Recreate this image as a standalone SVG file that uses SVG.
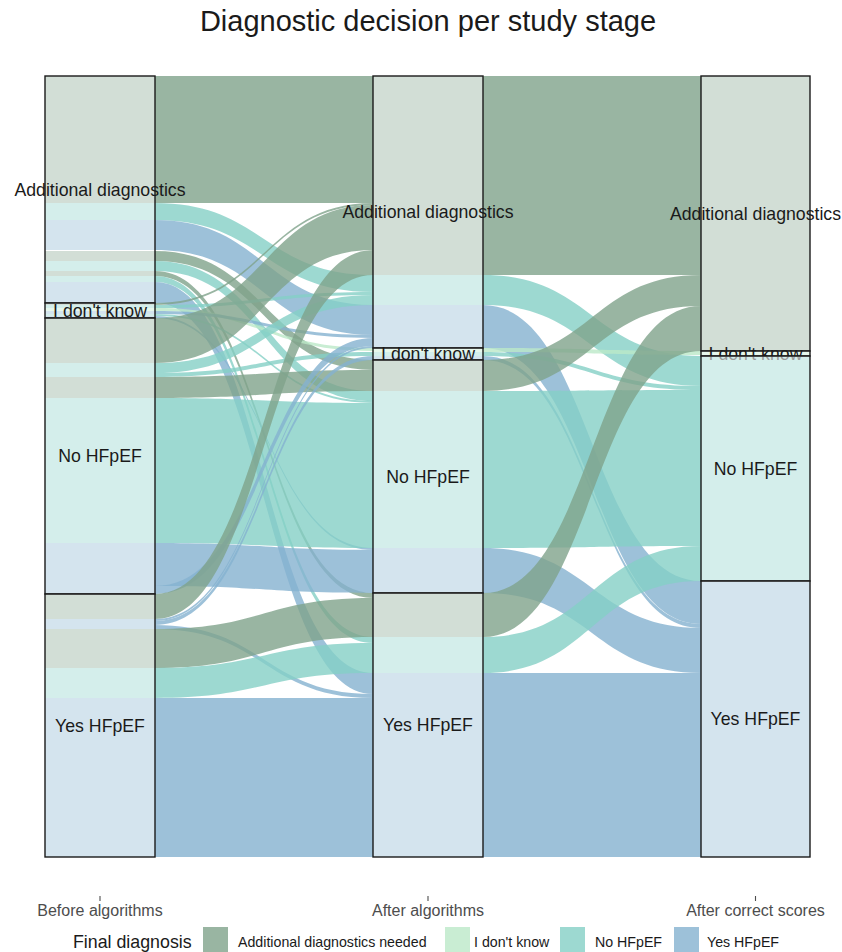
<svg xmlns="http://www.w3.org/2000/svg" width="842" height="952" viewBox="0 0 842 952">
<style>
.g{fill:#7fa38b}.t{fill:#84cfc5}.b{fill:#84b2d0}.l{fill:#bce9c8}
.f path,.lode rect,.key{fill-opacity:.8}
.st{fill:#fff;fill-opacity:.56;stroke:#1a1a1a;stroke-width:1.4}
.lab{font-family:'Liberation Sans',Arial,sans-serif;font-size:17.7px;text-anchor:middle;fill:#1a1a1a}
.ax{font-family:'Liberation Sans',Arial,sans-serif;font-size:16px;text-anchor:middle;fill:#4d4d4d}
.lg{font-family:'Liberation Sans',Arial,sans-serif;font-size:14.2px;fill:#1a1a1a}
.tick{stroke:#4d4d4d;stroke-width:1.1}
</style>
<rect width="842" height="952" fill="#fff"/>
<text x="428" y="31" font-family="'Liberation Sans',Arial,sans-serif" font-size="29" text-anchor="middle" fill="#1a1a1a">Diagnostic decision per study stage</text>

<g id="connectors" class="f">
<!-- stage 1 to stage 2 -->
<path class="g" d="M155 76C264 76 264 76 373 76V203C264 203 264 203 155 203Z"/>
<path class="t" d="M155 203C264 203 264 275 373 275V292C264 292 264 220 155 220Z"/>
<path class="b" d="M155 220C264 220 264 305 373 305V335C264 335 264 250 155 250Z"/>
<path class="g" d="M155 251C264 251 264 360 373 360V370C264 370 264 261 155 261Z"/>
<path class="t" d="M155 261C264 261 264 391 373 391V401C264 401 264 271 155 271Z"/>
<path class="g" d="M155 271C264 271 264 593 373 593V598C264 598 264 276 155 276Z"/>
<path class="t" d="M155 276C264 276 264 637 373 637V643C264 643 264 282 155 282Z"/>
<path class="b" d="M155 282C264 282 264 673 373 673V694C264 694 264 303 155 303Z"/>
<path class="g" d="M155 303C264 303 264 203 373 203V205C264 205 264 305 155 305Z"/>
<path class="t" d="M155 305C264 305 264 292 373 292V295C264 295 264 308 155 308Z"/>
<path class="l" d="M155 308C264 308 264 348 373 348V351C264 351 264 311 155 311Z"/>
<path class="b" d="M155 311C264 311 264 335 373 335V338C264 338 264 314 155 314Z"/>
<path class="t" d="M155 314C264 314 264 401 373 401V403C264 403 264 316 155 316Z"/>
<path class="b" d="M155 316C264 316 264 548 373 548V550C264 550 264 318 155 318Z"/>
<path class="g" d="M155 318C264 318 264 205 373 205V250C264 250 264 363 155 363Z"/>
<path class="t" d="M155 363C264 363 264 295 373 295V305C264 305 264 373 155 373Z"/>
<path class="t" d="M155 373C264 373 264 352 373 352V356C264 356 264 377 155 377Z"/>
<path class="g" d="M155 377C264 377 264 370 373 370V391C264 391 264 398 155 398Z"/>
<path class="t" d="M155 398C264 398 264 403 373 403V548C264 548 264 543 155 543Z"/>
<path class="b" d="M155 543C264 543 264 550 373 550V593C264 593 264 586 155 586Z"/>
<path class="b" d="M155 586C264 586 264 338 373 338V346C264 346 264 594 155 594Z"/>
<path class="g" d="M155 594C264 594 264 250 373 250V275C264 275 264 619 155 619Z"/>
<path class="b" d="M155 619C264 619 264 346 373 346V348C264 348 264 621 155 621Z"/>
<path class="b" d="M155 621C264 621 264 356 373 356V360C264 360 264 625 155 625Z"/>
<path class="b" d="M155 625C264 625 264 694 373 694V698C264 698 264 629 155 629Z"/>
<path class="g" d="M155 629C264 629 264 598 373 598V637C264 637 264 668 155 668Z"/>
<path class="t" d="M155 668C264 668 264 643 373 643V673C264 673 264 698 155 698Z"/>
<path class="b" d="M155 698C264 698 264 698 373 698V857C264 857 264 857 155 857Z"/>
<!-- stage 2 to stage 3 -->
<path class="g" d="M483 76C592 76 592 76 701 76V275C592 275 592 275 483 275Z"/>
<path class="t" d="M483 275C592 275 592 356 701 356V386C592 386 592 305 483 305Z"/>
<path class="b" d="M483 305C592 305 592 581 701 581V624C592 624 592 348 483 348Z"/>
<path class="l" d="M483 348C592 348 592 351 701 351V355C592 355 592 352 483 352Z"/>
<path class="t" d="M483 352C592 352 592 386 701 386V390C592 390 592 356 483 356Z"/>
<path class="b" d="M483 356C592 356 592 624 701 624V628C592 628 592 360 483 360Z"/>
<path class="g" d="M483 360C592 360 592 275 701 275V306C592 306 592 391 483 391Z"/>
<path class="t" d="M483 391C592 391 592 390 701 390V546C592 546 592 548 483 548Z"/>
<path class="b" d="M483 548C592 548 592 628 701 628V673C592 673 592 593 483 593Z"/>
<path class="g" d="M483 593C592 593 592 306 701 306V351C592 351 592 637 483 637Z"/>
<path class="t" d="M483 637C592 637 592 546 701 546V581C592 581 592 673 483 673Z"/>
<path class="b" d="M483 673C592 673 592 673 701 673V857C592 857 592 857 483 857Z"/>
</g>

<g class="lode">
<rect class="g" x="45" y="76" width="110" height="127"/>
<rect class="t" x="45" y="203" width="110" height="17"/>
<rect class="b" x="45" y="220" width="110" height="30"/>
<rect class="g" x="45" y="251" width="110" height="10"/>
<rect class="t" x="45" y="261" width="110" height="10"/>
<rect class="g" x="45" y="271" width="110" height="5"/>
<rect class="t" x="45" y="276" width="110" height="6"/>
<rect class="b" x="45" y="282" width="110" height="21"/>
<rect class="g" x="45" y="303" width="110" height="2"/>
<rect class="t" x="45" y="305" width="110" height="3"/>
<rect class="l" x="45" y="308" width="110" height="3"/>
<rect class="b" x="45" y="311" width="110" height="3"/>
<rect class="t" x="45" y="314" width="110" height="2"/>
<rect class="b" x="45" y="316" width="110" height="2"/>
<rect class="g" x="45" y="318" width="110" height="45"/>
<rect class="t" x="45" y="363" width="110" height="14"/>
<rect class="g" x="45" y="377" width="110" height="21"/>
<rect class="t" x="45" y="398" width="110" height="145"/>
<rect class="b" x="45" y="543" width="110" height="51"/>
<rect class="g" x="45" y="594" width="110" height="25"/>
<rect class="b" x="45" y="619" width="110" height="10"/>
<rect class="g" x="45" y="629" width="110" height="39"/>
<rect class="t" x="45" y="668" width="110" height="30"/>
<rect class="b" x="45" y="698" width="110" height="159"/>

<rect class="g" x="373" y="76" width="110" height="199"/>
<rect class="t" x="373" y="275" width="110" height="30"/>
<rect class="b" x="373" y="305" width="110" height="43"/>
<rect class="l" x="373" y="348" width="110" height="4"/>
<rect class="t" x="373" y="352" width="110" height="4"/>
<rect class="b" x="373" y="356" width="110" height="4"/>
<rect class="g" x="373" y="360" width="110" height="31"/>
<rect class="t" x="373" y="391" width="110" height="157"/>
<rect class="b" x="373" y="548" width="110" height="45"/>
<rect class="g" x="373" y="593" width="110" height="44"/>
<rect class="t" x="373" y="637" width="110" height="36"/>
<rect class="b" x="373" y="673" width="110" height="184"/>

<rect class="g" x="701" y="76" width="109" height="275"/>
<rect class="l" x="701" y="351" width="109" height="5"/>
<rect class="t" x="701" y="356" width="109" height="225"/>
<rect class="b" x="701" y="581" width="109" height="276"/>
</g>

<g id="before-additional"><rect class="st" x="45" y="76" width="110" height="227"/><text class="lab" x="100" y="195.5">Additional diagnostics</text></g>
<g id="before-idk"><rect class="st" x="45" y="303" width="110" height="15"/><text class="lab" x="100" y="316.5">I don't know</text></g>
<g id="before-no"><rect class="st" x="45" y="318" width="110" height="276"/><text class="lab" x="100" y="462">No HFpEF</text></g>
<g id="before-yes"><rect class="st" x="45" y="594" width="110" height="263"/><text class="lab" x="100" y="731.5">Yes HFpEF</text></g>

<g id="after-additional"><rect class="st" x="373" y="76" width="110" height="272"/><text class="lab" x="428" y="218">Additional diagnostics</text></g>
<g id="after-idk"><rect class="st" x="373" y="348" width="110" height="12"/><text class="lab" x="428" y="360">I don't know</text></g>
<g id="after-no"><rect class="st" x="373" y="360" width="110" height="233"/><text class="lab" x="428" y="482.5">No HFpEF</text></g>
<g id="after-yes"><rect class="st" x="373" y="593" width="110" height="264"/><text class="lab" x="428" y="731">Yes HFpEF</text></g>

<g id="correct-additional"><rect class="st" x="701" y="76" width="109" height="275"/><text class="lab" x="755.5" y="219.5">Additional diagnostics</text></g>
<g id="correct-idk"><rect class="st" x="701" y="351" width="109" height="5"/><text class="lab" x="755.5" y="359.5">I don't know</text></g>
<g id="correct-no"><rect class="st" x="701" y="356" width="109" height="225"/><text class="lab" x="755.5" y="474.5">No HFpEF</text></g>
<g id="correct-yes"><rect class="st" x="701" y="581" width="109" height="276"/><text class="lab" x="755.5" y="725">Yes HFpEF</text></g>

<g id="axis">
<line class="tick" x1="100" y1="896" x2="100" y2="901"/>
<line class="tick" x1="428" y1="896" x2="428" y2="901"/>
<line class="tick" x1="755.5" y1="896" x2="755.5" y2="901"/>
<text class="ax" x="100" y="916">Before algorithms</text>
<text class="ax" x="428" y="916">After algorithms</text>
<text class="ax" x="755.5" y="916">After correct scores</text>
</g>

<g id="legend">
<text x="73" y="948" font-family="'Liberation Sans',Arial,sans-serif" font-size="17.8" fill="#1a1a1a">Final diagnosis</text>
<rect class="key g" x="203" y="927" width="25" height="25"/>
<text class="lg" x="238" y="947">Additional diagnostics needed</text>
<rect class="key l" x="445" y="927" width="25" height="25"/>
<text class="lg" x="474" y="947">I don't know</text>
<rect class="key t" x="560" y="927" width="25" height="25"/>
<text class="lg" x="595" y="947">No HFpEF</text>
<rect class="key b" x="674" y="927" width="25" height="25"/>
<text class="lg" x="707" y="947">Yes HFpEF</text>
</g>
</svg>
